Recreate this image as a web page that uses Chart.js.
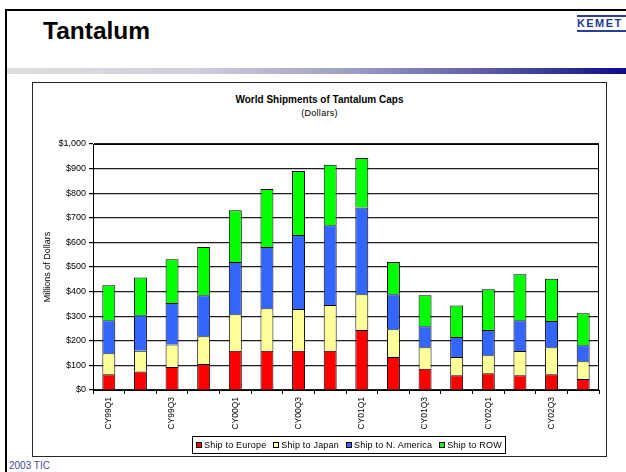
<!DOCTYPE html>
<html>
<head>
<meta charset="utf-8">
<script src="https://cdn.jsdelivr.net/npm/chart.js@4.4.1/dist/chart.umd.min.js"></script>
<style>
  html, body { margin: 0; padding: 0; background: #fff; }
  body { width: 626px; height: 472px; position: relative; overflow: hidden;
         font-family: "Liberation Sans", Arial, sans-serif; color: #000; }
  .edge-top  { position: absolute; left: 5px; top: 9px; width: 621px; height: 2px; background: #000; }
  .edge-left { position: absolute; left: 5px; top: 9px; width: 2px; height: 463px; background: #000; }
  .heading { position: absolute; left: 43px; top: 19px; font-weight: bold; font-size: 24.5px; line-height: 24.5px; white-space: nowrap; }
  .logo { position: absolute; left: 577px; top: 15px; width: 60px; height: 11px; padding: 1px 0;
          border-top: 2px solid #2a3f95; border-bottom: 2px solid #2a3f95;
          font-weight: bold; font-size: 11px; line-height: 11px; letter-spacing: 1.4px; color: #1f3a90; white-space: nowrap; }
  .rule { position: absolute; left: 7px; top: 68px; width: 619px; height: 6px;
          background: linear-gradient(to right, #dedede 0%, #cfcfdc 30%, #9f9fc6 55%, #5a5aa8 78%, #0c0c8e 100%); }
  .frame { position: absolute; left: 32px; top: 82px; width: 573px; height: 373px; border: 1px solid #262626; }
  #plot { position: absolute; left: 33px; top: 83px; }
  .ctitle { position: absolute; left: 32px; width: 575px; text-align: center; white-space: nowrap; }
  .ctitle.main { top: 94px; font-size: 10px; line-height: 11px; font-weight: bold; }
  .ctitle.sub  { top: 108px; font-size: 9px; line-height: 11px; letter-spacing: 0.3px; }
  .legend { position: absolute; left: 192px; top: 436px; width: 309px; height: 16px; border: 1px solid #000;
            display: flex; align-items: center; padding-left: 3px; box-sizing: content-box;
            font-size: 9px; letter-spacing: 0.2px; white-space: nowrap; }
  .legend .item { display: flex; align-items: center; margin-right: 7px; }
  .legend .swatch { width: 4px; height: 4px; border: 1px solid #000; margin-right: 2px; }
  .footer { position: absolute; left: 9px; top: 460px; font-size: 10px; line-height: 11px; color: #4848a8; white-space: nowrap; }
</style>
</head>
<body>
<div class="edge-top"></div>
<div class="edge-left"></div>
<div class="heading">Tantalum</div>
<div class="logo">KEMET</div>
<div class="rule"></div>
<div class="frame"></div>
<div class="ctitle main">World Shipments of Tantalum Caps</div>
<div class="ctitle sub">(Dollars)</div>
<canvas id="plot" width="572" height="372"></canvas>
<div class="legend" id="legend"></div>
<div class="footer">2003 TIC</div>

<script>
// Quarterly shipments, millions of dollars, by destination region
const quarters = ['CY99Q1','CY99Q2','CY99Q3','CY99Q4','CY00Q1','CY00Q2','CY00Q3','CY00Q4',
                  'CY01Q1','CY01Q2','CY01Q3','CY01Q4','CY02Q1','CY02Q2','CY02Q3','CY02Q4'];
const europe   = [64, 75, 94, 106, 160, 160, 160, 160, 244, 134, 86, 60, 68, 60, 64, 45];
const japan    = [85, 85, 91, 113, 148, 172, 169, 186, 145, 113, 88, 74, 73, 99, 110, 72];
const nAmerica = [135, 144, 169, 166, 212, 249, 301, 324, 353, 142, 85, 81, 103, 125, 106, 65];
const row      = [142, 153, 177, 196, 211, 236, 260, 246, 201, 131, 126, 128, 166, 187, 172, 130];
const seriesNames = ['Ship to Europe', 'Ship to Japan', 'Ship to N. America', 'Ship to ROW'];
const yTicks = [0, 100, 200, 300, 400, 500, 600, 700, 800, 900, 1000];

const colors = ['#ff0000', '#ffff99', '#3366ff', '#00ff00'];
const seriesValues = [europe, japan, nAmerica, row];

const datasets = seriesValues.map((vals, i) => ({
  label: seriesNames[i],
  data: vals,
  backgroundColor: colors[i],
  borderColor: '#000',
  borderWidth: 1,
  barPercentage: 0.41,
  categoryPercentage: 1
}));

// Box drawn around the plotting area
const plotBox = {
  id: 'plotBox',
  afterDraw(chart) {
    const { ctx, chartArea: a } = chart;
    ctx.save();
    ctx.strokeStyle = '#000';
    ctx.lineWidth = 1;
    ctx.strokeRect(Math.round(a.left) + 0.5, Math.round(a.top) + 0.5,
                   Math.round(a.right - a.left) - 1, Math.round(a.bottom - a.top));
    ctx.restore();
  }
};

Chart.defaults.font.family = '"Liberation Sans", Arial, sans-serif';
Chart.defaults.color = '#000';

new Chart(document.getElementById('plot'), {
  type: 'bar',
  data: { labels: quarters, datasets },
  options: {
    responsive: false,
    animation: false,
    devicePixelRatio: 1,
    layout: { padding: { left: 0, right: 6, top: 61, bottom: 25 } },
    plugins: { legend: { display: false }, tooltip: { enabled: false } },
    scales: {
      x: {
        stacked: true,
        grid: { offset: true, drawOnChartArea: false, drawTicks: true, tickLength: 4, tickColor: '#000' },
        border: { color: '#000' },
        ticks: {
          autoSkip: false, minRotation: 90, maxRotation: 90, padding: 3,
          font: { size: 8.5 }, color: '#000',
          callback(v, i) { return i % 2 === 0 ? quarters[i] : ''; }
        },
        afterFit(s) { s.height = 40; }
      },
      y: {
        stacked: true,
        min: yTicks[0], max: yTicks[yTicks.length - 1],
        afterBuildTicks(s) { s.ticks = yTicks.map(v => ({ value: v })); },
        ticks: {
          padding: 3, font: { size: 9 }, color: '#000',
          callback: v => '$' + v.toLocaleString('en-US')
        },
        grid: { color: '#1e1e1e', lineWidth: 1.2, tickLength: 4, tickColor: '#000' },
        border: { color: '#000' },
        title: { display: true, text: 'Millions of Dollars', font: { size: 9 }, color: '#000', padding: { top: 9, bottom: 0 } },
        afterFit(s) { s.width = 60; }
      }
    }
  },
  plugins: [plotBox]
});

// Legend strip under the plot
const legend = document.getElementById('legend');
seriesNames.forEach((name, i) => {
  const item = document.createElement('span');
  item.className = 'item';
  const sw = document.createElement('span');
  sw.className = 'swatch';
  sw.style.background = colors[i];
  const tx = document.createElement('span');
  tx.textContent = name;
  item.appendChild(sw);
  item.appendChild(tx);
  legend.appendChild(item);
});
</script>
</body>
</html>
